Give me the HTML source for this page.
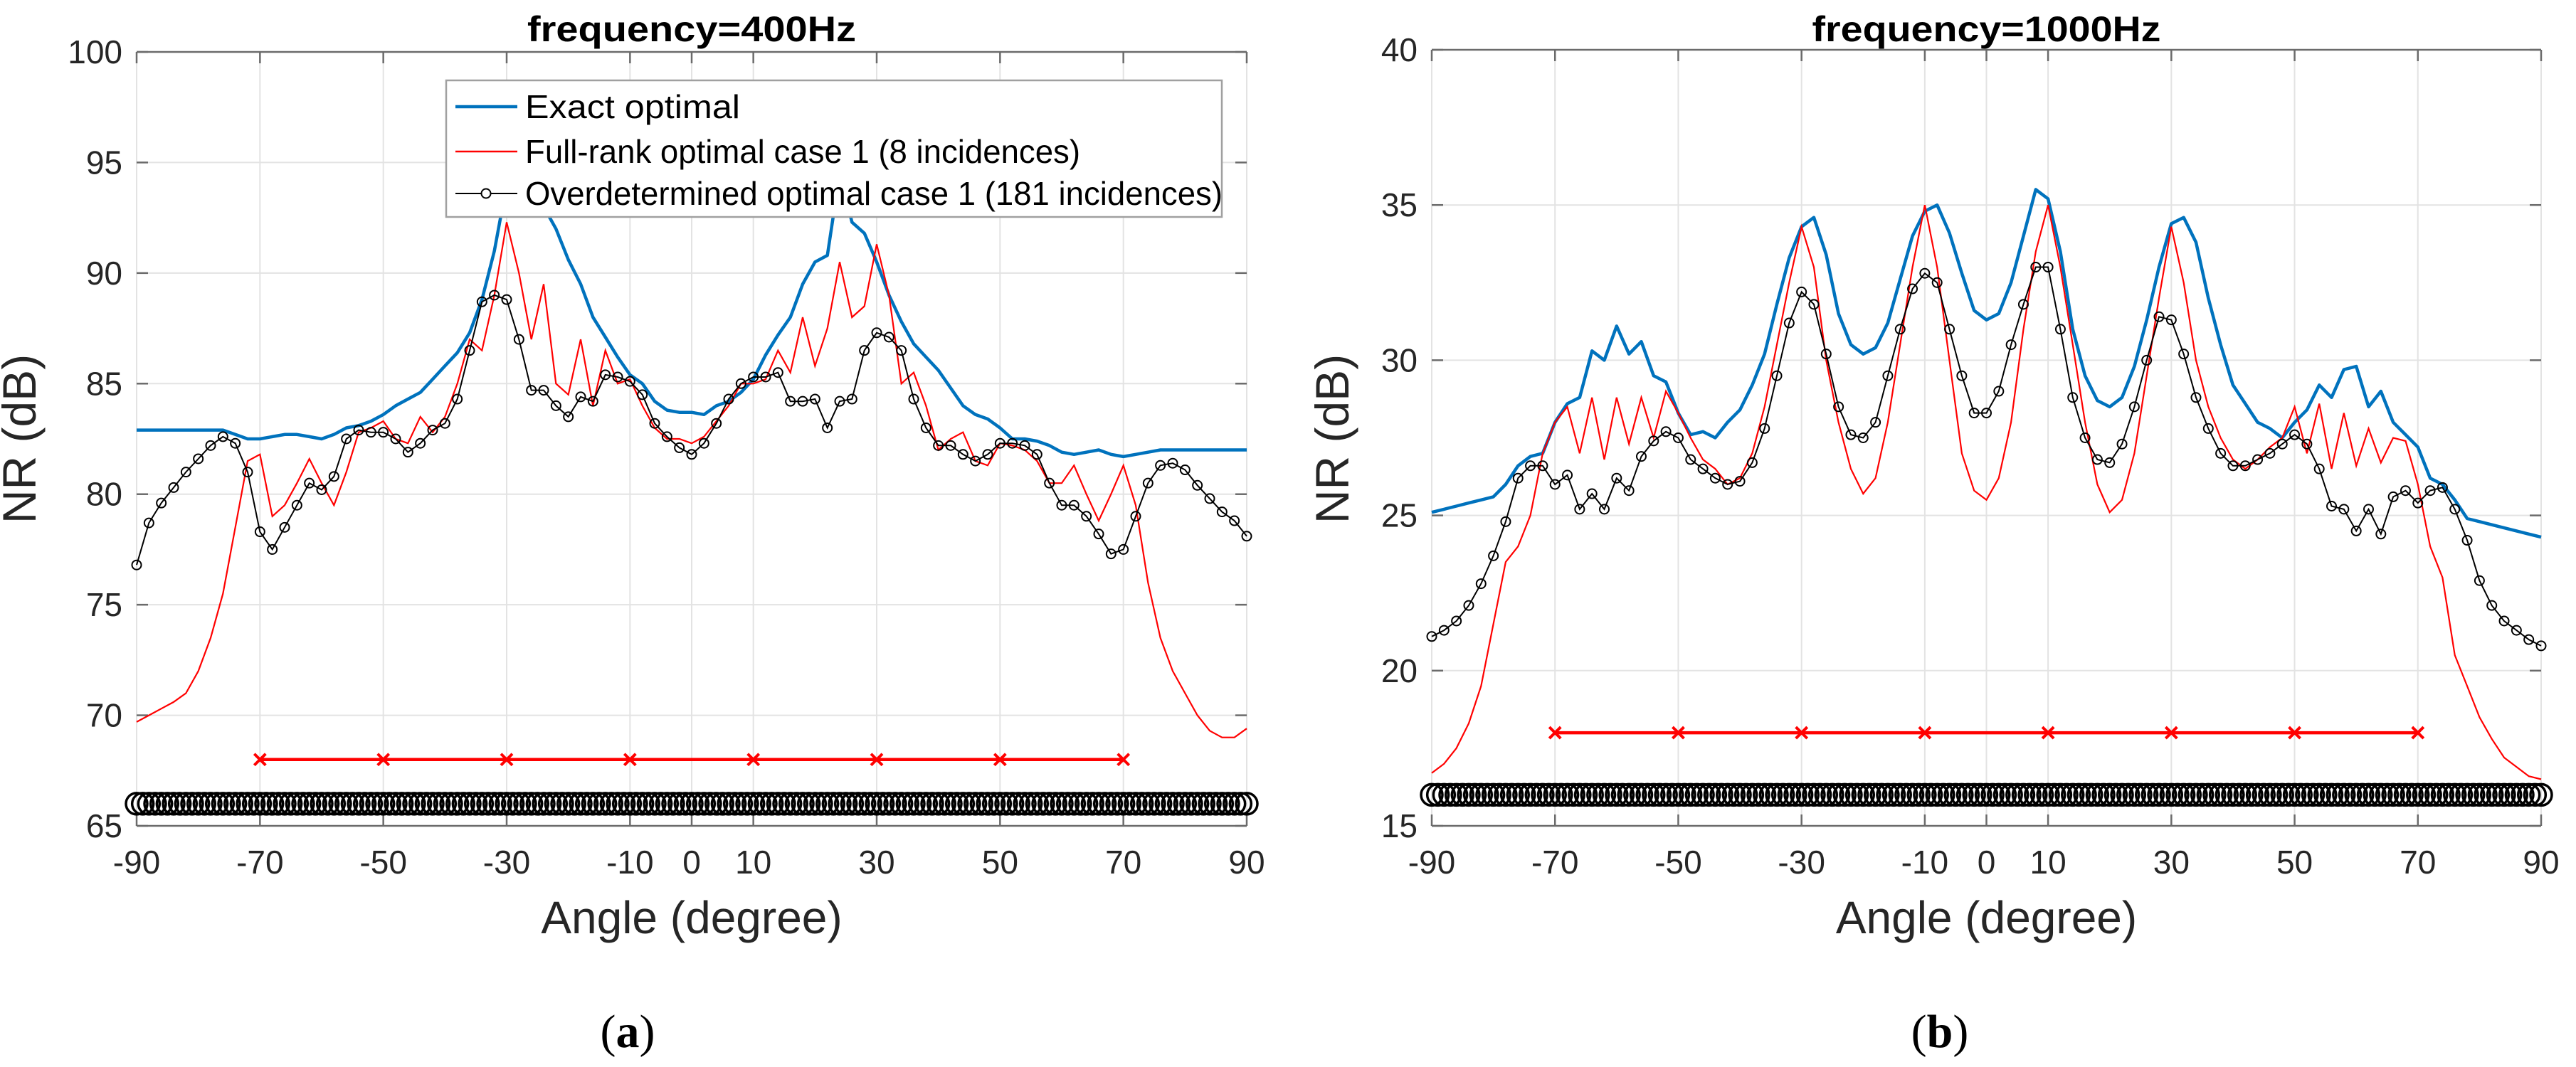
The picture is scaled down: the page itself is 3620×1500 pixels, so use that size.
<!DOCTYPE html>
<html><head><meta charset="utf-8"><style>
html,body{margin:0;padding:0;background:#fff;}
svg{display:block;font-family:"Liberation Sans",sans-serif;}
</style></head><body>
<svg id="fig" width="3620" height="1500" viewBox="0 0 3620 1500" xmlns="http://www.w3.org/2000/svg"></svg>
<script>
// ---- Chart (a) 400 Hz data (angles every 2 degrees from -90 to 90) ----
const exactA = [82.9,82.9,82.9,82.9,82.9,82.9,82.9,82.9,82.7,82.5,82.5,82.6,82.7,82.7,82.6,82.5,82.7,83,83.1,83.3,83.6,84,84.3,84.6,85.2,85.8,86.4,87.3,88.8,91,94,97.5,97,93,92,90.6,89.5,88,87.1,86.2,85.4,85,84.2,83.8,83.7,83.7,83.6,84,84.2,84.6,85.2,86.3,87.2,88,89.5,90.5,90.8,94.5,92.3,91.8,90.5,89,87.8,86.8,86.2,85.6,84.8,84,83.6,83.4,83,82.5,82.5,82.4,82.2,81.9,81.8,81.9,82,81.8,81.7,81.8,81.9,82,82,82,82,82,82,82,82];
const fullA = [69.7,70,70.3,70.6,71,72,73.5,75.5,78.5,81.5,81.8,79,79.5,80.5,81.6,80.5,79.5,81,82.8,83,83.3,82.5,82.3,83.5,82.8,83.5,85,87,86.5,89,92.3,90,87,89.5,85,84.5,87,84,86.5,85,85.2,84,83,82.5,82.5,82.3,82.6,83.3,84,85,85,85.2,86.5,85.5,88,85.8,87.5,90.5,88,88.5,91.3,89,85,85.5,84,82,82.5,82.8,81.5,81.3,82.3,82.2,82,81.5,80.5,80.5,81.3,80,78.8,80,81.3,79.5,76,73.5,72,71,70,69.3,69,69,69.4];
const overA = [76.8,78.7,79.6,80.3,81,81.6,82.2,82.6,82.3,81,78.3,77.5,78.5,79.5,80.5,80.2,80.8,82.5,82.9,82.8,82.8,82.5,81.9,82.3,82.9,83.2,84.3,86.5,88.7,89,88.8,87,84.7,84.7,84,83.5,84.4,84.2,85.4,85.3,85.1,84.5,83.2,82.6,82.1,81.8,82.3,83.2,84.3,85,85.3,85.3,85.5,84.2,84.2,84.3,83,84.2,84.3,86.5,87.3,87.1,86.5,84.3,83,82.2,82.2,81.8,81.5,81.8,82.3,82.3,82.2,81.8,80.5,79.5,79.5,79,78.2,77.3,77.5,79,80.5,81.3,81.4,81.1,80.4,79.8,79.2,78.8,78.1];
// ---- Chart (b) 1000 Hz data ----
const exactB = [25.1,25.2,25.3,25.4,25.5,25.6,26,26.6,26.9,27,28,28.6,28.8,30.3,30,31.1,30.2,30.6,29.5,29.3,28.3,27.6,27.7,27.5,28,28.4,29.2,30.2,31.8,33.3,34.3,34.6,33.4,31.5,30.5,30.2,30.4,31.2,32.6,34,34.8,35,34.1,32.8,31.6,31.3,31.5,32.5,34,35.5,35.2,33.5,31,29.5,28.7,28.5,28.8,29.8,31.3,33,34.4,34.6,33.8,32,30.5,29.2,28.6,28,27.8,27.5,28,28.4,29.2,28.8,29.7,29.8,28.5,29,28,27.6,27.2,26.2,26,25.5,24.9,24.8,24.7,24.6,24.5,24.4,24.3];
const fullB = [16.7,17,17.5,18.3,19.5,21.5,23.5,24,25,27,28,28.5,27,28.8,26.8,28.8,27.3,28.8,27.5,29,28.3,27.5,26.8,26.5,26,26.2,27,28.5,30.5,32.5,34.3,33,30,28,26.5,25.7,26.2,28,30.5,33,35,33,30,27,25.8,25.5,26.2,28,31,33.5,35,33,30.5,28,26,25.1,25.5,27,29.5,32,34.3,32.5,30,28.5,27.5,26.8,26.5,26.8,27.2,27.5,28.5,27,28.6,26.5,28.3,26.6,27.8,26.7,27.5,27.4,26,24,23,20.5,19.5,18.5,17.8,17.2,16.9,16.6,16.5];
const overB = [21.1,21.3,21.6,22.1,22.8,23.7,24.8,26.2,26.6,26.6,26,26.3,25.2,25.7,25.2,26.2,25.8,26.9,27.4,27.7,27.5,26.8,26.5,26.2,26,26.1,26.7,27.8,29.5,31.2,32.2,31.8,30.2,28.5,27.6,27.5,28,29.5,31,32.3,32.8,32.5,31,29.5,28.3,28.3,29,30.5,31.8,33,33,31,28.8,27.5,26.8,26.7,27.3,28.5,30,31.4,31.3,30.2,28.8,27.8,27,26.6,26.6,26.8,27,27.3,27.6,27.3,26.5,25.3,25.2,24.5,25.2,24.4,25.6,25.8,25.4,25.8,25.9,25.2,24.2,22.9,22.1,21.6,21.3,21,20.8];
// incidence angles
const fullRankAngles = [-70,-50,-30,-10,10,30,50,70];
const xTicks = [-90,-70,-50,-30,-10,0,10,30,50,70,90];
const yTicksA = [65,70,75,80,85,90,95,100];
const yTicksB = [15,20,25,30,35,40];

const NS = "http://www.w3.org/2000/svg";
const svg = document.getElementById('fig');
function el(tag, attrs, parent, text){
  const e = document.createElementNS(NS, tag);
  for (const k in attrs) e.setAttribute(k, attrs[k]);
  if (text !== undefined) e.textContent = text;
  (parent || svg).appendChild(e);
  return e;
}
const angles = [];
for (let a = -90; a <= 90; a += 2) angles.push(a);
const overAngles = [];
for (let a = -90; a <= 90; a += 1) overAngles.push(a);

function drawChart(c){
  const g = el('g', {});
  
  
  const X = a => c.x0 + (a + 90) / 180 * (c.x1 - c.x0);
  const Y = v => c.y1 - (v - c.ymin) / (c.ymax - c.ymin) * (c.y1 - c.y0);
  // grid
  const grid = el('g', {stroke:'#e3e3e3','stroke-width':2}, g);
  
  
  xTicks.forEach(t => el('line', {x1:X(t),x2:X(t),y1:c.y0,y2:c.y1}, grid));
  c.yTicks.forEach(t => el('line', {x1:c.x0,x2:c.x1,y1:Y(t),y2:Y(t)}, grid));
  // axes box
  const ax = el('g', {stroke:'#6b6b6b','stroke-width':2.5}, g);
  
  
  el('line', {x1:c.x0,x2:c.x1,y1:c.y0,y2:c.y0}, ax);
  el('line', {x1:c.x0,x2:c.x1,y1:c.y1,y2:c.y1}, ax);
  xTicks.forEach(t => {
    el('line', {x1:X(t),x2:X(t),y1:c.y1,y2:c.y1-16}, ax);
    el('line', {x1:X(t),x2:X(t),y1:c.y0,y2:c.y0+16}, ax);
  });
  c.yTicks.forEach(t => {
    el('line', {x1:c.x0,x2:c.x0+16,y1:Y(t),y2:Y(t)}, ax);
    el('line', {x1:c.x1,x2:c.x1-16,y1:Y(t),y2:Y(t)}, ax);
  });
  // tick labels
  xTicks.forEach(t => {
    const tl = el('text', {x:X(t), y:1228, 'font-size':46, 'text-anchor':'middle', fill:'#262626'}, g, String(t));
    
    
  });
  c.yTicks.forEach(t => {
    const tl = el('text', {x:c.x0-20, y:Y(t)+16, 'font-size':46, 'text-anchor':'end', fill:'#262626'}, g, String(t));
    
    
  });
  // series
  const pts = (arrX, arrV) => arrV.map((v,i)=>X(arrX[i]).toFixed(1)+','+Y(v).toFixed(1)).join(' ');
  const blue = el('polyline', {points:pts(angles,c.exact), fill:'none', stroke:'#0072bd','stroke-width':4.5,'stroke-linejoin':'round'}, g);
  
  
  const red = el('polyline', {points:pts(angles,c.full), fill:'none', stroke:'#ff0000','stroke-width':2.2}, g);
  
  
  const blk = el('g', {}, g);
  
  
  el('polyline', {points:pts(angles,c.over), fill:'none', stroke:'#000','stroke-width':2}, blk);
  c.over.forEach((v,i) => {
    const m = el('circle', {cx:X(angles[i]), cy:Y(v), r:6.5, fill:'none', stroke:'#000','stroke-width':2}, blk);
    
    
  });
  // incidence rows
  const inc = el('g', {}, g);
  
  
  const yr = Y(c.incFull);
  el('line', {x1:X(fullRankAngles[0]), x2:X(fullRankAngles[fullRankAngles.length-1]), y1:yr, y2:yr, stroke:'#ff0000','stroke-width':4.5}, inc);
  fullRankAngles.forEach(a => {
    const x = X(a);
    el('path', {d:`M${x-8},${yr-8}L${x+8},${yr+8}M${x-8},${yr+8}L${x+8},${yr-8}`, stroke:'#ff0000','stroke-width':4}, inc);
  });
  const inc2 = el('g', {}, g);
  
  
  const yo = Y(c.incOver);
  overAngles.forEach(a => el('circle', {cx:X(a), cy:yo, r:15, fill:'none', stroke:'#000','stroke-width':3.5}, inc2));
  // titles
  const t = el('text', {x:(c.x0+c.x1)/2, y:58, 'font-size':50, 'font-weight':'bold', 'text-anchor':'middle', fill:'#000', textLength:c.titleLen, lengthAdjust:'spacingAndGlyphs'}, g, c.title);
  
  
  const xl = el('text', {x:(c.x0+c.x1)/2, y:1312, 'font-size':64, 'text-anchor':'middle', fill:'#262626'}, g, 'Angle (degree)');
  
  
  const yl = el('text', {x:0, y:0, 'font-size':66, 'text-anchor':'middle', fill:'#262626', transform:`translate(${c.ylx},617) rotate(-90)`}, g, 'NR (dB)');
  
  
  const cap = el('text', {x:c.capX, y:1472, 'font-size':66, 'text-anchor':'middle', fill:'#000', 'font-family':'"Liberation Serif", serif'}, g);
  
  
  el('tspan', {}, cap, '(');
  el('tspan', {'font-weight':'bold'}, cap, c.cap);
  el('tspan', {}, cap, ')');
  return {g, X, Y};
}

const A = drawChart({name:'chart-400hz', x0:192, x1:1752, y0:73, y1:1161, ymin:65, ymax:100, yTicks:yTicksA,
  exact:exactA, full:fullA, over:overA, incFull:68, incOver:66, title:'frequency=400Hz', titleLen:462, ylx:50, capX:882, cap:'a'});
drawChart({name:'chart-1000hz', x0:2012, x1:3571, y0:70, y1:1161, ymin:15, ymax:40, yTicks:yTicksB,
  exact:exactB, full:fullB, over:overB, incFull:18, incOver:16, title:'frequency=1000Hz', titleLen:490, ylx:1895, capX:2726, cap:'b'});

// legend on chart (a)
const lg = el('g', {});


el('rect', {x:627, y:113, width:1090, height:192, fill:'#fff', stroke:'#a0a0a0', 'stroke-width':2.5}, lg);
const entries = [
  {y:150, color:'#0072bd', w:4.5, label:'Exact optimal', len:302, name:'legend-entry-exact'},
  {y:213, color:'#ff0000', w:2.5, label:'Full-rank optimal case 1 (8 incidences)', len:780, name:'legend-entry-full-rank'},
  {y:272, color:'#000', w:2, label:'Overdetermined optimal case 1 (181 incidences)', len:980, name:'legend-entry-overdetermined'}
];
entries.forEach(e => {
  const eg = el('g', {}, lg);
  
  
  el('line', {x1:640, x2:727, y1:e.y, y2:e.y, stroke:e.color, 'stroke-width':e.w}, eg);
  if (e.name === 'legend-entry-overdetermined') el('circle', {cx:683, cy:e.y, r:6.5, fill:'#fff', stroke:'#000','stroke-width':2}, eg);
  el('text', {x:738, y:e.y+16, 'font-size':46, fill:'#000', textLength:e.len, lengthAdjust:'spacingAndGlyphs'}, eg, e.label);
});
</script>
</body></html>
